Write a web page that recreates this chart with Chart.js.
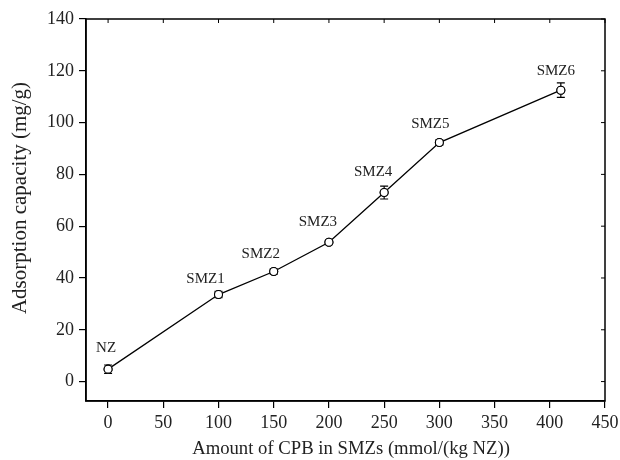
<!DOCTYPE html>
<html><head><meta charset="utf-8">
<script src="https://cdn.jsdelivr.net/npm/chart.js@4"></script>
<style>html,body{margin:0;padding:0;background:#fff}#wrap{width:620px;height:460px}</style>
</head><body><div id="wrap"><canvas id="c" width="620" height="460"></canvas></div>
<script>
const categories = ["NZ","SMZ1","SMZ2","SMZ3","SMZ4","SMZ5","SMZ6"];
const cpbAmount = [0,100,150,200,250,300,410];
const capacity = [4.8,33.6,42.5,53.8,73.0,92.3,112.5];
const capacityErr = [1.6,1.2,1.0,0.8,2.5,1.0,2.8];
const xTicks = [0,50,100,150,200,250,300,350,400,450];
const yTicks = [0,20,40,60,80,100,120,140];
const xTitle = 'Amount of CPB in SMZs (mmol/(kg NZ))';
const yTitle = 'Adsorption capacity (mg/g)';

const FONT = "'Liberation Serif','Times New Roman',serif";
// label nudges (pixels, relative to each point)
const labelDx = [-2,-13,-13,-11,-11,-9,-5];
const labelDy = [-21,-15,-17,-20,-20,-18,-19];

const overlay = {
  id:'overlay',
  afterDatasetsDraw(chart){
    const ctx = chart.ctx, xs = chart.scales.x, ys = chart.scales.y;
    ctx.save();
    ctx.strokeStyle='#000'; ctx.lineWidth=1.2;
    cpbAmount.forEach((xv,i)=>{
      const px = xs.getPixelForValue(xv);
      const top = ys.getPixelForValue(capacity[i]+capacityErr[i]);
      const bot = ys.getPixelForValue(capacity[i]-capacityErr[i]);
      ctx.beginPath();
      ctx.moveTo(px,top); ctx.lineTo(px,bot);
      ctx.moveTo(px-4,top); ctx.lineTo(px+4,top);
      ctx.moveTo(px-4,bot); ctx.lineTo(px+4,bot);
      ctx.stroke();
    });
    ctx.restore();
  },
  afterDraw(chart){
    const ctx = chart.ctx, xs = chart.scales.x, ys = chart.scales.y, a = chart.chartArea;
    ctx.save();
    cpbAmount.forEach((xv,i)=>{
      const px = xs.getPixelForValue(xv), py = ys.getPixelForValue(capacity[i]);
      ctx.beginPath(); ctx.arc(px,py,4,0,Math.PI*2);
      ctx.fillStyle='#fff'; ctx.fill(); ctx.strokeStyle='#000'; ctx.lineWidth=1.1; ctx.stroke();
    });
    ctx.strokeStyle='#000'; ctx.lineWidth=1.5;
    ctx.strokeRect(a.left,a.top,a.right-a.left,a.bottom-a.top);
    ctx.lineWidth=1;
    xTicks.forEach(v=>{const p=xs.getPixelForValue(v); ctx.beginPath(); ctx.moveTo(p,a.top); ctx.lineTo(p,a.top+4); ctx.stroke();});
    yTicks.forEach(v=>{const p=ys.getPixelForValue(v); ctx.beginPath(); ctx.moveTo(a.right,p); ctx.lineTo(a.right-4,p); ctx.stroke();});
    ctx.fillStyle='#222'; ctx.font='15px '+FONT; ctx.textAlign='center'; ctx.textBaseline='middle';
    categories.forEach((t,i)=>{
      const px = xs.getPixelForValue(cpbAmount[i]), py = ys.getPixelForValue(capacity[i]);
      ctx.fillText(t, px+labelDx[i], py+labelDy[i]);
    });
    ctx.font='18.7px '+FONT;
    ctx.fillText(xTitle, (a.left+a.right)/2+5.5, 449);
    ctx.save();
    ctx.translate(20, (a.top+a.bottom)/2-12);
    ctx.rotate(-Math.PI/2);
    ctx.font='21px '+FONT;
    ctx.fillText(yTitle, 0, 0);
    ctx.restore();
    ctx.restore();
  }
};

new Chart(document.getElementById('c'),{
  type:'line',
  data:{datasets:[{
    data: cpbAmount.map((x,i)=>({x:x,y:capacity[i]})),
    borderColor:'#000', borderWidth:1.3, pointRadius:4, pointBackgroundColor:'#fff',
    pointBorderColor:'#000', pointBorderWidth:1.1, tension:0, fill:false
  }]},
  options:{
    responsive:false, animation:false,
    layout:{padding:{top:19,right:15,left:0,bottom:0}},
    plugins:{legend:{display:false},tooltip:{enabled:false}},
    scales:{
      x:{type:'linear',min:-20,max:450,
        afterBuildTicks(s){s.ticks=xTicks.map(v=>({value:v}));},
        afterFit(s){s.height=59; s.paddingRight=0; s.paddingLeft=0;},
        grid:{display:true,drawOnChartArea:false,drawTicks:true,tickLength:7,color:'#000',lineWidth:1.2},
        border:{display:true,color:'#000',width:1.5},
        ticks:{color:'#222',font:{family:FONT,size:18},padding:4,maxRotation:0,autoSkip:false},
        title:{display:false}
      },
      y:{type:'linear',min:-7.5,max:140,
        afterBuildTicks(s){s.ticks=yTicks.map(v=>({value:v}));},
        afterFit(s){s.width=86; s.paddingTop=0; s.paddingBottom=0;},
        grid:{display:true,drawOnChartArea:false,drawTicks:true,tickLength:7,color:'#000',lineWidth:1.2},
        border:{display:true,color:'#000',width:1.5},
        ticks:{color:'#222',font:{family:FONT,size:18},padding:5,autoSkip:false},
        title:{display:false}
      }
    }
  },
  plugins:[overlay]
});
</script></body></html>
